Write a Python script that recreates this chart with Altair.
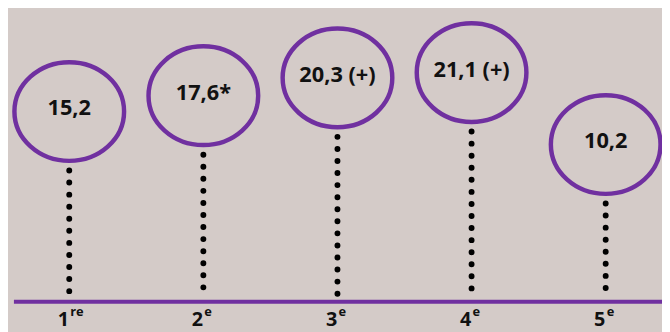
import altair as alt
import pandas as pd

ranks = ["1", "2", "3", "4", "5"]
suffixes = ["re", "e", "e", "e", "e"]
values = [15.2, 17.6, 20.3, 21.1, 10.2]
labels = ["15,2", "17,6*", "20,3 (+)", "21,1 (+)", "10,2"]

df = pd.DataFrame({"rank": ranks, "suffix": suffixes, "value": values, "label": labels})

BG = "#d4cbc8"
PURPLE = "#7030a0"
FONT = "Open Sans"

x = alt.X("rank:N", sort=ranks,
          scale=alt.Scale(type="point", range=[62, 605], padding=0), axis=None)
y = alt.Y("value:Q", scale=alt.Scale(domain=[-17.91, 30.59], nice=False, zero=False), axis=None)

ellipse = ("M 1 0 C 1 0.497 0.5523 0.9 0 0.9 C -0.5523 0.9 -1 0.497 -1 0 "
           "C -1 -0.497 -0.5523 -0.9 0 -0.9 C 0.5523 -0.9 1 -0.497 1 0 Z")

base = alt.Chart(df)

baseline = alt.Chart(pd.DataFrame({"b": [0]})).mark_rule(
    color=PURPLE, strokeWidth=4
).encode(x=alt.value(6), x2=alt.value(662), y=alt.value(295.3))

stems = base.mark_rule(
    color="black", strokeWidth=6, strokeDash=[0.01, 12.2], strokeCap="round", yOffset=59.7
).encode(x=x, y=y, y2=alt.value(291.3))

bubbles = base.mark_point(
    shape=ellipse, size=12321, filled=False, color=PURPLE, stroke=PURPLE,
    strokeWidth=4.5, opacity=1
).encode(x=x, y=y)

values_text = base.mark_text(
    font=FONT, fontSize=22, fontWeight="bold", color="#111111", baseline="middle", dy=-3
).encode(x=x, y=y, text="label:N")

rank_text = base.mark_text(
    font=FONT, fontSize=20, fontWeight="bold", color="#111111", align="center",
    baseline="alphabetic", dx=-6
).encode(x=x, y=alt.value(320), text="rank:N")

suffix_text = base.mark_text(
    font=FONT, fontSize=13, fontWeight="bold", color="#111111", align="left",
    baseline="alphabetic", dx=1
).encode(x=x, y=alt.value(310), text="suffix:N")

chart = alt.layer(baseline, stems, bubbles, values_text, rank_text, suffix_text).properties(
    width=662, height=324, padding=0, autosize="none", background=BG
).configure_view(strokeWidth=0, fill=BG)

chart.save("out.html", embed_options={"renderer": "svg", "actions": False})
